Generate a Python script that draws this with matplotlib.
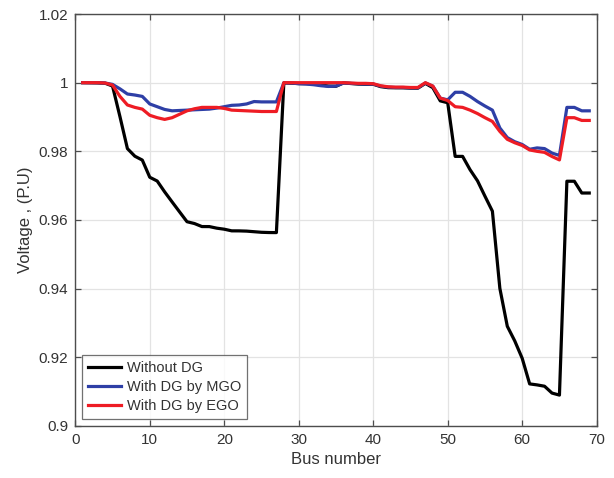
"""Voltage profile of the 69-bus feeder with and without DG (MATLAB-style figure)."""

import matplotlib

matplotlib.use("Agg")
import matplotlib.pyplot as plt
import numpy as np

bus = np.arange(1, 70)

v_without_dg = [
    1.0000, 0.99997, 0.99993, 0.99984, 0.99902, 0.99009, 0.98079, 0.97858, 0.97745, 0.97245,
    0.97135, 0.96819, 0.96526, 0.96237, 0.95950, 0.95897, 0.95809, 0.95808, 0.95762, 0.95732,
    0.95684, 0.95683, 0.95676, 0.95659, 0.95642, 0.95635, 0.95633, 0.99993, 0.99985, 0.99973,
    0.99971, 0.99961, 0.99935, 0.99901, 0.99895, 0.99992, 0.99975, 0.99959, 0.99954, 0.99954,
    0.99884, 0.99855, 0.99851, 0.99850, 0.99841, 0.99840, 0.99979, 0.99854, 0.99470, 0.99415,
    0.97853, 0.97853, 0.97465, 0.97141, 0.96693, 0.96256, 0.94010, 0.92905, 0.92478, 0.91971,
    0.91226, 0.91197, 0.91158, 0.90959, 0.90900, 0.97129, 0.97129, 0.96786, 0.96786,
]

v_mgo = [
    1.0000, 1.0000, 1.0000, 0.9999, 0.9995, 0.9982, 0.9967, 0.9964, 0.9960, 0.9938,
    0.9930, 0.9922, 0.9918, 0.9919, 0.9920, 0.9921, 0.9922, 0.9923, 0.9926, 0.9930,
    0.9934, 0.9935, 0.9938, 0.9945, 0.9944, 0.9944, 0.9944, 0.99995, 0.9999, 0.9997,
    0.9996, 0.9994, 0.9991, 0.9989, 0.9990, 0.9999, 0.9998, 0.9997, 0.9996, 0.9996,
    0.9990, 0.9987, 0.9986, 0.9986, 0.9985, 0.9985, 0.9999, 0.9990, 0.9955, 0.9950,
    0.9972, 0.9972, 0.9960, 0.9945, 0.9932, 0.9920, 0.9868, 0.9840, 0.9828, 0.9820,
    0.9806, 0.9810, 0.9808, 0.9795, 0.9788, 0.9928, 0.9928, 0.9918, 0.9918,
]

v_ego = [
    1.0000, 1.0000, 1.0000, 0.9999, 0.9993, 0.9960, 0.9935, 0.9928, 0.9923, 0.9905,
    0.9898, 0.9893, 0.9898, 0.9908, 0.9918, 0.9924, 0.9928, 0.9928, 0.9928, 0.9925,
    0.9920, 0.9919, 0.9918, 0.9917, 0.9916, 0.9916, 0.9916, 1.0000, 1.0000, 1.0000,
    1.0000, 1.0000, 1.0000, 1.0000, 1.0000, 1.0000, 0.9999, 0.9998, 0.9998, 0.9997,
    0.9991, 0.9988, 0.9987, 0.9987, 0.9986, 0.9986, 1.0000, 0.9990, 0.9955, 0.9948,
    0.9930, 0.9928, 0.9920, 0.9910, 0.9898, 0.9887, 0.9858, 0.9835, 0.9825, 0.9817,
    0.9804, 0.9800, 0.9797, 0.9785, 0.9775, 0.9898, 0.9898, 0.9890, 0.9890,
]

x_ticks = [0, 10, 20, 30, 40, 50, 60, 70]
y_ticks = [0.9, 0.92, 0.94, 0.96, 0.98, 1.0, 1.02]
y_tick_labels = ["0.9", "0.92", "0.94", "0.96", "0.98", "1", "1.02"]

plt.rcParams["font.family"] = ["Liberation Sans", "DejaVu Sans"]

fig = plt.figure(figsize=(6.14, 4.78), dpi=100)
ax = fig.add_axes([0.1226, 0.1088, 0.8492, 0.8619])

ax.plot(bus, v_without_dg, color="black", lw=2.3, label="Without DG", zorder=3)
ax.plot(bus, v_mgo, color="#2e3fa6", lw=2.3, label="With DG by MGO", zorder=4)
ax.plot(bus, v_ego, color="#ee1c24", lw=2.3, label="With DG by EGO", zorder=5)

ax.set_xlim(0, 70)
ax.set_ylim(0.9, 1.02)
ax.set_xticks(x_ticks)
ax.set_yticks(y_ticks)
ax.set_yticklabels(y_tick_labels)
ax.grid(True, color="#e3e3e3", lw=0.9)
ax.set_axisbelow(True)

for side in ax.spines.values():
    side.set_color("#4d4d4d")
    side.set_linewidth(1.0)
ax.tick_params(direction="in", top=True, right=True, length=4, width=0.9,
               color="#4d4d4d", labelcolor="#333333", labelsize=11, pad=5)

ax.set_xlabel("Bus number", fontsize=12, color="#333333", labelpad=4)
ax.set_ylabel("Voltage , (P.U)", fontsize=12, color="#333333", labelpad=4)

leg = ax.legend(loc="lower left", bbox_to_anchor=(0.013, 0.017), borderaxespad=0,
                fontsize=10.5, frameon=True, fancybox=False, handlelength=2.3,
                handletextpad=0.35, borderpad=0.4, labelspacing=0.35)
leg.get_frame().set_edgecolor("#4d4d4d")
leg.get_frame().set_linewidth(0.9)
for t in leg.get_texts():
    t.set_color("#333333")

fig.savefig("out.png", dpi=100)
plt.close(fig)
